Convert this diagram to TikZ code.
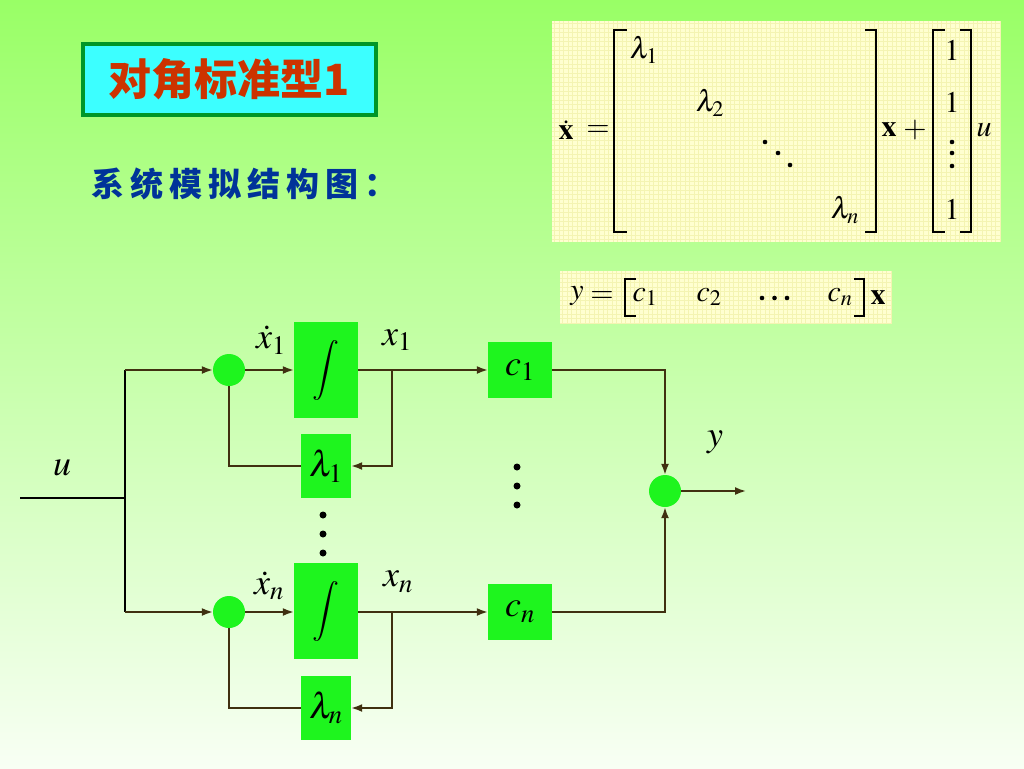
\documentclass[tikz,border=0pt]{standalone}
\usepackage{mathptmx}
\usepackage{fontspec}
\newfontfamily\cjk{Noto Sans CJK SC}
\newfontfamily\cjkwide[LetterSpace=18]{Noto Sans CJK SC}
\usepackage{tikz}
\usetikzlibrary{arrows}
\usetikzlibrary{arrows.meta}
\usetikzlibrary{positioning}
\definecolor{bgtop}{RGB}{153,255,102}
\definecolor{bgmid}{RGB}{200,255,170}
\definecolor{bgbot}{RGB}{248,255,244}
\definecolor{boxgreen}{RGB}{30,245,30}
\definecolor{wirecol}{RGB}{64,48,16}
\definecolor{titlered}{RGB}{204,51,0}
\definecolor{titlecyan}{RGB}{60,255,255}
\definecolor{titleframe}{RGB}{0,150,40}
\definecolor{subblue}{RGB}{0,51,153}
\definecolor{matbg}{RGB}{255,255,208}
\definecolor{matgrid}{RGB}{244,244,178}
\tikzset{
  block/.style={fill=boxgreen, inner sep=0pt, minimum width=64pt},
  sumnode/.style={circle, fill=boxgreen, inner sep=0pt, minimum size=32pt},
  wire/.style={draw=wirecol, line width=1.8pt},
  arr/.style={-{Latex[length=11pt, width=8pt]}},
  brack/.style={line width=1.6pt},
  lbl/.style={inner sep=0pt},
}
\newcommand\eqsize{\fontsize{30}{34}\selectfont}
\begin{document}
\begin{tikzpicture}[x=1pt, y=-1pt, font=\fontsize{36}{40}\selectfont]
  \useasboundingbox (0,0) rectangle (1024,768);
  \shade[top color=bgtop, middle color=bgmid, bottom color=bgbot] (0,0) rectangle (1024,768);

  % title and caption
  \node[draw=titleframe, line width=4pt, fill=titlecyan, minimum width=293pt, minimum height=71pt,
        text=titlered, font=\cjk\bfseries\fontsize{43}{46}\selectfont] (title) at (229.5,79.5) {对角标准型1};
  \node[anchor=west, text=subblue, font=\cjkwide\bfseries\fontsize{33}{36}\selectfont] (caption) at (88,184) {系统模拟结构图：};

  % state equation
  \fill[matbg] (552,21) rectangle (1000,242);
  \foreach \gx in {554.5,559,...,1000} \draw[matgrid, line width=0.5pt] (\gx,21) -- (\gx,242);
  \foreach \gy in {23.5,28,...,242} \draw[matgrid, line width=0.5pt] (552,\gy) -- (1000,\gy);
  \begin{scope}[font=\eqsize, every node/.style={inner sep=0.5pt}]
    \node (xdot) at (566,130) {$\dot{\mathbf{x}}$};
    \node (eqa) at (598,131) {$=$};
    \draw[brack] (627,30) -- (614,30) -- (614,232) -- (627,232);
    \node (a11) at (644,50) {$\lambda_1$};
    \node (a22) at (710,103) {$\lambda_2$};
    \node (ann) at (845,210) {$\lambda_n$};
    \draw[brack] (865,30) -- (876,30) -- (876,232) -- (865,232);
    \node (xa) at (889,130) {$\mathbf{x}$};
    \node (plus) at (915,130) {$+$};
    \draw[brack] (945,30) -- (933,30) -- (933,232) -- (945,232);
    \node (b1) at (952,50) {$1$};
    \node (b2) at (952,102) {$1$};
    \node (bn) at (952,209) {$1$};
    \draw[brack] (960,30) -- (971,30) -- (971,232) -- (960,232);
    \node (ua) at (984,130) {$u$};
  \end{scope}
  \foreach \dx/\dy in {765/142,778/153,790/165,952/142,952/153,952/166} \fill (\dx,\dy) circle (2.3pt);

  % output equation
  \fill[matbg] (560,271) rectangle (892,324);
  \foreach \gx in {562.5,567,...,892} \draw[matgrid, line width=0.5pt] (\gx,271) -- (\gx,324);
  \foreach \gy in {273.5,278,...,324} \draw[matgrid, line width=0.5pt] (560,\gy) -- (892,\gy);
  \begin{scope}[font=\eqsize, every node/.style={inner sep=0.5pt}]
    \node (yb) at (577,296) {$y$};
    \node (eqb) at (602,297) {$=$};
    \draw[brack] (636,279) -- (625,279) -- (625,316) -- (636,316);
    \node (cc1) at (645,297) {$c_1$};
    \node (cc2) at (709,297) {$c_2$};
    \node (ccn) at (840,297) {$c_n$};
    \draw[brack] (854,279) -- (864,279) -- (864,316) -- (854,316);
    \node (xb) at (878,297) {$\mathbf{x}$};
  \end{scope}
  \foreach \dx in {762,774.5,787} \fill (\dx,298) circle (2.3pt);

  % block diagram
  \node[sumnode] (sum1) at (229,370) {};
  \node[sumnode] (sumn) at (229,612) {};
  \node[sumnode] (sumy) at (665,491) {};
  \node[block, minimum height=96pt, font=\fontsize{30}{34}\selectfont] (int1) at (326,370) {\raisebox{-4pt}{$\displaystyle\int$}};
  \node[block, minimum height=96pt, font=\fontsize{30}{34}\selectfont] (intn) at (326,611) {\raisebox{-4pt}{$\displaystyle\int$}};
  \node[block, minimum width=50pt, minimum height=64pt] (lam1) at (326,466) {$\lambda_1$};
  \node[block, minimum width=50pt, minimum height=64pt] (lamn) at (326,708) {$\lambda_n$};
  \node[block, minimum height=56pt] (c1) at (520,370) {$c_1$};
  \node[block, minimum height=56pt] (cn) at (520,612) {$c_n$};

  \coordinate (uin) at (20,498);
  \coordinate (um) at (125,498);
  \coordinate (ut) at (125,370);
  \coordinate (ub) at (125,612);
  \coordinate (br1) at (392,370);
  \coordinate (brn) at (392,612);
  \coordinate (yout) at (746,491);

  \draw[line width=2.2pt] (uin) -- (um);
  \draw[line width=2.2pt] (ut) -- (ub);
  \draw[wire, arr] (ut) -- (sum1);
  \draw[wire, arr] (ub) -- (sumn);
  \draw[wire, arr] (sum1) -- (int1);
  \draw[wire, arr] (sumn) -- (intn.west |- sumn);
  \draw[wire, arr] (int1) -- (c1);
  \draw[wire, arr] (intn.east |- cn) -- (cn);
  \draw[wire, arr] (br1) |- (lam1);
  \draw[wire, arr] (brn) |- (lamn);
  \draw[wire] (lam1) -| (sum1);
  \draw[wire] (lamn) -| (sumn);
  \draw[wire, arr] (c1) -| (sumy);
  \draw[wire, arr] (cn) -| (sumy);
  \draw[wire, arr] (sumy) -- (yout);

  \node[lbl] (lu) at (62,468) {$u$};
  \node[lbl] (ly) at (715,442) {$y$};
  \node[lbl] (ldx1) at (271,340) {$\dot{x}_1$};
  \node[lbl] (lx1) at (397,340) {$x_1$};
  \node[lbl] (ldxn) at (269,586) {$\dot{x}_n$};
  \node[lbl] (lxn) at (398,582) {$x_n$};

  \foreach \yy in {515,534,553} \fill (323,\yy) circle (3.5pt);
  \foreach \yy in {467,486,505} \fill (517,\yy) circle (3.5pt);
\end{tikzpicture}
\end{document}
